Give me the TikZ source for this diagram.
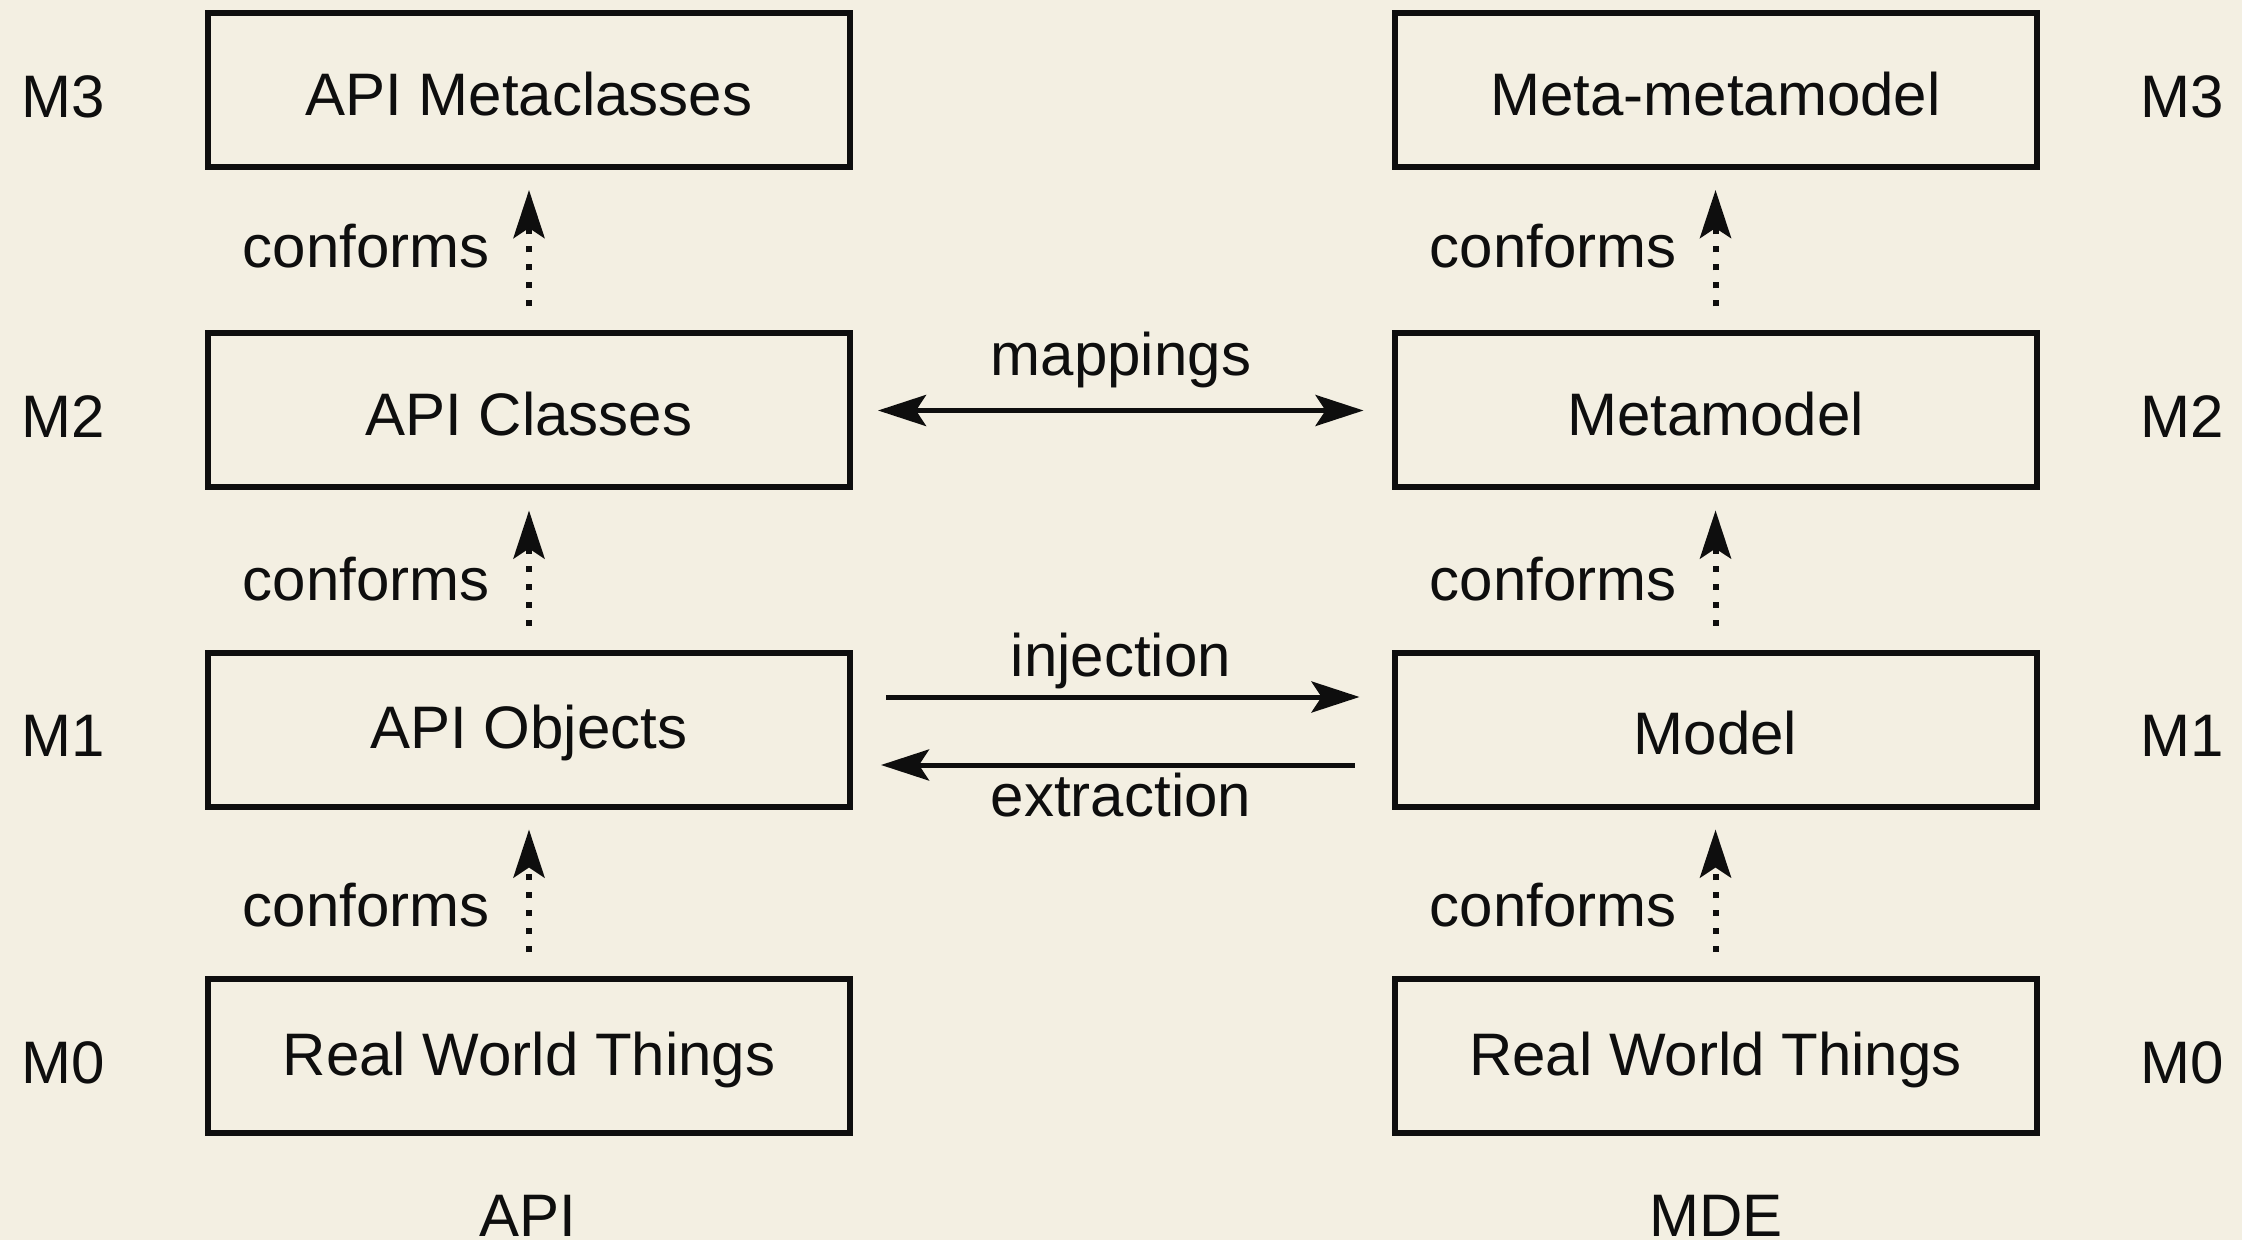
\documentclass[tikz,border=0pt]{standalone}
\usepackage{fontspec}
\setmainfont{Liberation Sans}
\usetikzlibrary{arrows.meta}
\definecolor{paper}{RGB}{243,239,226}
\definecolor{ink}{RGB}{14,14,14}
\tikzset{
  txt/.style={font=\fontsize{30}{36}\selectfont, text=ink, inner sep=0pt},
  levelbox/.style={txt, draw=ink, line width=3pt, minimum width=321pt, minimum height=77pt,
    text height=25.5pt},
  mtip/.tip={Stealth[length=24pt, width=15.5pt, inset=5pt]},
  conform/.style={draw=ink, line width=3pt, dash pattern=on 3pt off 6pt, -mtip,
    shorten <=12pt, shorten >=10pt},
  flow/.style={draw=ink, line width=2.5pt}
}
\begin{document}
\begin{tikzpicture}[x=0.5pt, y=-0.5pt]
  \path[use as bounding box, fill=paper] (0,0) rectangle (2242,1240);

  % API column
  \node[levelbox] (apimeta) at (529,90)     {API Metaclasses};
  \node[levelbox] (apicls)  at (529,410.5)  {API Classes};
  \node[levelbox] (apiobj)  at (529,729.5)  {API Objects};
  \node[levelbox] (apirw)   at (529,1056)   {Real World Things};

  % MDE column
  \node[levelbox] (mmm)     at (1715.5,90)    {Meta-metamodel};
  \node[levelbox] (mm)      at (1715.5,410.5) {Metamodel};
  \node[levelbox] (model)   at (1715.5,729.5) {Model};
  \node[levelbox] (mderw)   at (1715.5,1056)  {Real World Things};

  % level labels
  \node[txt, anchor=base] (l3) at (63,118)    {M3};
  \node[txt, anchor=base] (l2) at (63,438)    {M2};
  \node[txt, anchor=base] (l1) at (63,756)    {M1};
  \node[txt, anchor=base] (l0) at (63,1083)   {M0};
  \node[txt, anchor=base] (r3) at (2182,118)  {M3};
  \node[txt, anchor=base] (r2) at (2182,438)  {M2};
  \node[txt, anchor=base] (r1) at (2182,756)  {M1};
  \node[txt, anchor=base] (r0) at (2182,1083) {M0};

  % column captions
  \node[txt, anchor=base] (capi) at (528,1236)  {API};
  \node[txt, anchor=base] (cmde) at (1716,1236) {MDE};

  % conformance relations
  \draw[conform] (apicls.north) -- (apimeta.south);
  \draw[conform] (apiobj.north) -- (apicls.south);
  \draw[conform] (apirw.north)  -- (apiobj.south);
  \draw[conform] (mm.north)     -- (mmm.south);
  \draw[conform] (model.north)  -- (mm.south);
  \draw[conform] (mderw.north)  -- (model.south);

  \node[txt, anchor=base east] (c1a) at (490,268)  {conforms};
  \node[txt, anchor=base east] (c2a) at (490,600)  {conforms};
  \node[txt, anchor=base east] (c3a) at (490,926)  {conforms};
  \node[txt, anchor=base east] (c1b) at (1677,268) {conforms};
  \node[txt, anchor=base east] (c2b) at (1677,600) {conforms};
  \node[txt, anchor=base east] (c3b) at (1677,926) {conforms};

  % bridges between the two spaces
  \draw[flow, mtip-mtip, shorten <=12.5pt, shorten >=14pt] (apicls.east) -- (mm.west);
  \draw[flow, -mtip, shorten <=16.5pt, shorten >=16pt]
    ([yshift=16.25pt]apiobj.east) -- ([yshift=16.25pt]model.west);
  \draw[flow, -mtip, shorten <=18.5pt, shorten >=14pt]
    ([yshift=-17.75pt]model.west) -- ([yshift=-17.75pt]apiobj.east);

  \node[txt, anchor=base] (lmap) at (1121,376) {mappings};
  \node[txt, anchor=base] (linj) at (1121,676) {injection};
  \node[txt, anchor=base] (lext) at (1121,816) {extraction};
\end{tikzpicture}
\end{document}
